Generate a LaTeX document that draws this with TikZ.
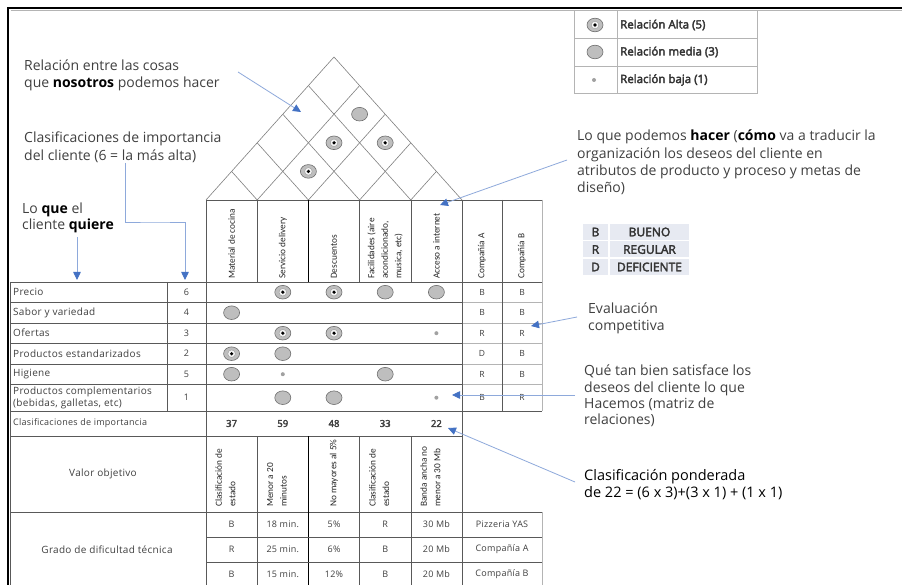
\documentclass[tikz,border=0pt]{standalone}
\usepackage{fontspec}
\setmainfont{Open Sans}
\newfontfamily\condensed{Carlito}
\newfontfamily\tabfont{Open Sans}[LetterSpace=3]
\newfontfamily\semibold{Open Sans}[FakeBold=3]
\usetikzlibrary{arrows.meta}

\definecolor{inkgray}{HTML}{404040}
\definecolor{calloutblue}{HTML}{4472C4}
\definecolor{calloutline}{HTML}{8EA9DB}
\definecolor{rule}{HTML}{595959}
\definecolor{softrule}{HTML}{B4B4B4}
\definecolor{roofrule}{HTML}{808080}
\definecolor{dotfill}{HTML}{BEBEBE}
\definecolor{dotedge}{HTML}{6F6F6F}
\definecolor{keyfill}{HTML}{E7EAF2}

\tikzset{
  note/.style={anchor=north west, inner sep=0pt, align=left, text=inkgray,
    font=\fontsize{14}{17}\selectfont},
  callout/.style={draw=calloutline, line width=0.8pt,
    -{Triangle[length=8pt,width=7.5pt,color=calloutblue]}},
  grid/.style={draw=rule, line width=0.6pt},
  softgrid/.style={draw=softrule, line width=0.5pt},
  roofline/.style={draw=roofrule, line width=0.6pt},
  cell/.style={inner sep=0pt, text=inkgray, font=\tabfont\fontsize{9}{11}\selectfont},
  rowlabel/.style={cell, anchor=west, align=left, font=\tabfont\fontsize{10}{11.5}\selectfont},
  vhead/.style={rotate=90, anchor=west, inner sep=0pt, align=left,
    font=\condensed\fontsize{9.3}{13.5}\selectfont, text=black!85},
  legendtxt/.style={anchor=west, inner sep=0pt, text=black!80,
    font=\semibold\fontsize{11.5}{13}\selectfont},
  keytxt/.style={inner sep=0pt, text=black!80, font=\semibold\fontsize{12}{13}\selectfont},
  relhigh/.pic={
    \draw[dotedge, fill=dotfill, line width=0.6pt] (0,0) ellipse [x radius=8pt, y radius=6.8pt];
    \draw[dotedge!70, fill=white!85!dotfill, line width=0.4pt] (0,0) circle [radius=3.8pt];
    \fill[black] (0,0) circle [radius=1.8pt];
  },
  relmid/.pic={
    \draw[dotedge, fill=dotfill, line width=0.6pt] (0,0) ellipse [x radius=8pt, y radius=6.8pt];
  },
  rellow/.pic={
    \fill[dotfill!85!black] (0,0) circle [radius=2pt];
  },
}

\begin{document}
\begin{tikzpicture}[x=1pt, y=-1pt]
\useasboundingbox (0,0) rectangle (902,585);
\clip (0,0) rectangle (902,585);
\fill[white] (0,0) rectangle (902,585);

% ---------- outer frame (top and left edges) ----------
\draw[black, line width=2pt] (7.5,590) -- (7.5,8.5) -- (905,8.5);
\draw[softrule, line width=0.6pt] (10.5,10.5) -- (905,10.5);

% ---------- roof: correlation triangle ----------
\def\kk{1.117}
\draw[roofline] (206,200) -- (334,57) -- (462,200);
\foreach \i in {1,...,4} {
  \pgfmathsetmacro\bx{206+51.2*\i}
  \pgfmathsetmacro\tl{(\bx-206)/2}
  \pgfmathsetmacro\tr{(462-\bx)/2}
  \draw[roofline] ({\bx-\tl},{200-\kk*\tl}) -- (\bx,200) -- ({\bx+\tr},{200-\kk*\tr});
}
\pic at (359.6,114.2) {relmid};
\pic at (334,142.8) {relhigh};
\pic at (385.2,142.8) {relhigh};
\pic at (308.4,171.4) {relhigh};

% ---------- header of technical columns ----------
\draw[grid] (206,200) rectangle (542,282);
\foreach \x in {257.2,359.6,410.8,462,502} \draw[grid] (\x,200) -- (\x,282);
\draw[black, line width=0.8pt] (308.4,200) -- (308.4,282);

\node[vhead] (h1) at (231.6,279) {Material de cocina};
\node[vhead] (h2) at (282.8,279) {Servicio delivery};
\node[vhead] (h3) at (334,279) {Descuentos};
\node[vhead] (h4) at (385.2,279) {Facilidades (aire\\acondicionado,\\musica, etc)};
\node[vhead] (h5) at (436.4,279) {Acceso a internet};
\node[vhead] (h6) at (482,279) {Compañía A};
\node[vhead] (h7) at (522,279) {Compañía B};

% ---------- customer requirements block ----------
\foreach \y in {302.5,323,343.5,364,384.5} {
  \draw[grid] (10.5,\y) -- (462,\y);
  \draw[softgrid] (462,\y) -- (542,\y);
}
\draw[grid] (10.5,282) -- (542,282);
\draw[grid] (10.5,411) -- (542,411);
\draw[grid] (10.5,282) -- (10.5,590);
\draw[grid] (167,282) -- (167,411);
\draw[grid] (206,200) -- (206,590);
\draw[grid] (462,200) -- (462,590);
\draw[grid] (502,282) -- (502,411);
\draw[softrule, line width=0.8pt] (542,200) -- (542,411);

\node[rowlabel] (r1) at (13,292.2) {Precio};
\node[rowlabel] (r2) at (13,312.7) {Sabor y variedad};
\node[rowlabel] (r3) at (13,333.2) {Ofertas};
\node[rowlabel] (r4) at (13,353.7) {Productos estandarizados};
\node[rowlabel] (r5) at (13,374.2) {Higiene};
\node[rowlabel] (r6) at (13,397.7) {Productos complementarios\\(bebidas, galletas, etc)};

\node[cell] (w1) at (186.5,292.2) {6};
\node[cell] (w2) at (186.5,312.7) {4};
\node[cell] (w3) at (186.5,333.2) {3};
\node[cell] (w4) at (186.5,353.7) {2};
\node[cell] (w5) at (186.5,374.2) {5};
\node[cell] (w6) at (186.5,397.7) {1};

% relationship matrix
\pic at (282.8,292.2) {relhigh};
\pic at (334,292.2) {relhigh};
\pic at (385.2,292.2) {relmid};
\pic at (436.4,292.2) {relmid};
\pic at (231.6,312.7) {relmid};
\pic at (282.8,333.2) {relhigh};
\pic at (334,333.2) {relhigh};
\pic at (436.4,333.2) {rellow};
\pic at (231.6,353.7) {relhigh};
\pic at (282.8,353.7) {relmid};
\pic at (231.6,374.2) {relmid};
\pic at (282.8,374.2) {rellow};
\pic at (385.2,374.2) {relmid};
\pic at (282.8,397.7) {relmid};
\pic at (334,397.7) {relmid};
\pic at (436.4,397.7) {rellow};

% competitive evaluation
\foreach \y/\a/\b [count=\n] in {292.2/B/B,312.7/B/B,333.2/R/R,353.7/D/B,374.2/R/B,397.7/B/R} {
  \node[cell, font=\tabfont\fontsize{8.5}{10}\selectfont] (ca\n) at (482,\y) {\a};
  \node[cell, font=\tabfont\fontsize{8.5}{10}\selectfont] (cb\n) at (522,\y) {\b};
}

% ---------- importance ratings ----------
\node[rowlabel, font=\tabfont\fontsize{9}{11}\selectfont] (imp) at (13,423.5) {Clasificaciones de importancia};
\foreach \x/\v [count=\n] in {231.6/37,282.8/59,334/48,385.2/33,436.4/22}
  \node[cell, font=\semibold\fontsize{9.5}{11}\selectfont] (s\n) at (\x,423.5) {\v};

% ---------- target values ----------
\draw[grid] (10.5,436) -- (462,436);
\draw[grid] (10.5,512) -- (542,512);
\foreach \x in {257.2,359.6,410.8} \draw[grid] (\x,436) -- (\x,590);
\draw[black, line width=0.8pt] (308.4,436) -- (308.4,590);
\node[cell, font=\tabfont\fontsize{10}{11}\selectfont] (vo) at (103,474) {Valor objetivo};
\node[vhead] (t1) at (225.5,507) {Clasificación de\\estado};
\node[vhead] (t2) at (276.8,507) {Menor a 20\\minutos};
\node[vhead] (t3) at (334,507) {No mayores al 5\%};
\node[vhead] (t4) at (379.2,507) {Clasificación de\\estado};
\node[vhead] (t5) at (430.4,507) {Banda ancha no\\menor a 30 Mb};

% ---------- technical difficulty ----------
\draw[grid] (206,537) -- (542,537);
\draw[grid] (206,562) -- (542,562);
\draw[softrule, line width=0.8pt] (542,512) -- (542,590);
\node[cell, font=\tabfont\fontsize{10}{11}\selectfont] (gd) at (107,549.5) {Grado de dificultad técnica};
\foreach \y/\a/\b/\c/\d/\e/\f [count=\n] in
  {524.5/B/18 min./5\%/R/30 Mb/Pizzeria YAS,
   549.5/R/25 min./6\%/B/20 Mb/Compañía A,
   574/B/15 min./12\%/B/20 Mb/Compañía B} {
  \node[cell] (ga\n) at (231.6,\y) {\a};
  \node[cell] (gb\n) at (282.8,\y) {\b};
  \node[cell] (gc\n) at (334,\y) {\c};
  \node[cell] (ge\n) at (385.2,\y) {\d};
  \node[cell] (gf\n) at (436.4,\y) {\e};
  \node[cell] (gg\n) at (502,\y) {\f};
}

% ---------- symbol legend ----------
\draw[softgrid] (574,10.5) rectangle (757,93);
\draw[softgrid] (574,38) -- (757,38);
\draw[softgrid] (574,66) -- (757,66);
\draw[softgrid] (617,10.5) -- (617,93);
\pic at (595,25) {relhigh};
\pic at (595,52) {relmid};
\pic at (594,80) {rellow};
\node[legendtxt] (lg1) at (620,25) {Relación Alta (5)};
\node[legendtxt] (lg2) at (620,52) {Relación media (3)};
\node[legendtxt] (lg3) at (620,80) {Relación baja (1)};

% ---------- rating key ----------
\foreach \y/\l/\w [count=\n] in {232/B/BUENO,249.5/R/REGULAR,267/D/DEFICIENTE} {
  \fill[keyfill] (583,{\y-8}) rectangle (608,{\y+8});
  \fill[keyfill] (610,{\y-8}) rectangle (689,{\y+8});
  \node[keytxt] (kl\n) at (595.5,\y) {\l};
  \node[keytxt] (kw\n) at (649.5,\y) {\w};
}

% ---------- explanatory notes ----------
\node[note] (n1) at (24,60) {Relación entre las cosas\\que \textbf{\color{black}nosotros} podemos hacer};
\node[note, font=\fontsize{14}{17.5}\selectfont] (n2) at (24,132) {Clasificaciones de importancia\\del cliente (6 = la más alta)};
\node[note, font=\fontsize{14}{15.5}\selectfont] (n3) at (22,203) {Lo \textbf{\color{black}que} el\\cliente \textbf{\color{black}quiere}};
\node[note, font=\fontsize{14}{17.3}\selectfont] (n4) at (577,130) {Lo que podemos \textbf{\color{black}hacer} (\textbf{\color{black}cómo} va a traducir la\\organización los deseos del cliente en\\atributos de producto y proceso y metas de\\diseño)};
\node[note] (n5) at (588,303) {Evaluación\\competitiva};
\node[note, font=\fontsize{14}{16.3}\selectfont] (n6) at (584,365) {Qué tan bien satisface los\\deseos del cliente lo que\\Hacemos (matriz de\\relaciones)};
\node[note, text=black, font=\fontsize{14.5}{17}\selectfont] (n7) at (584,469) {Clasificación ponderada\\de 22 = (6 x 3)+(3 x 1) + (1 x 1)};

% ---------- callout arrows ----------
\coordinate (a1s) at (238,72);   \coordinate (a1e) at (301,112);
\coordinate (a2s) at (125,163);  \coordinate (a2e) at (185,280);
\coordinate (a3s) at (77,237);   \coordinate (a3e) at (77,280);
\coordinate (a4s) at (567,160);  \coordinate (a4e) at (440,205);
\coordinate (a5s) at (577,317);  \coordinate (a5e) at (531,326);
\coordinate (a6s) at (575,395);  \coordinate (a6e) at (452,395);
\coordinate (a7s) at (575,482);  \coordinate (a7e) at (448,428);
\draw[callout] (a1s) -- (a1e);
\draw[callout] (a2s) |- (155,222) -| (a2e);
\draw[callout] (a3s) -- (a3e);
\draw[callout] (a4s) -- (a4e);
\draw[callout] (a5s) -- (a5e);
\draw[callout] (a6s) -- (a6e);
\draw[callout] (a7s) -- (a7e);
\end{tikzpicture}
\end{document}
